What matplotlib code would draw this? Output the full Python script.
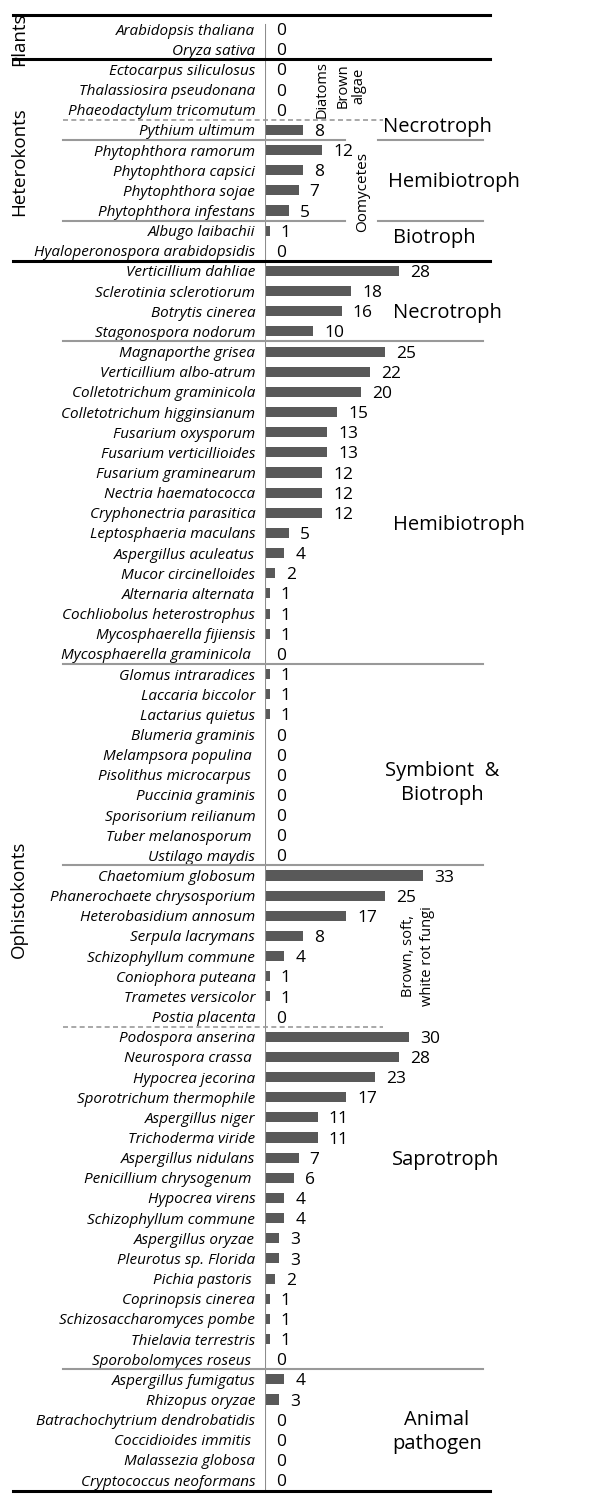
import matplotlib
matplotlib.use('Agg')
import matplotlib.pyplot as plt
from matplotlib.transforms import blended_transform_factory

plt.rcParams['font.family'] = ['Open Sans', 'DejaVu Sans']

# species names (top to bottom) and counts
plants = ['Arabidopsis thaliana', 'Oryza sativa']
plants_n = [0, 0]

heterokonts = ['Ectocarpus siliculosus', 'Thalassiosira pseudonana', 'Phaeodactylum tricomutum',
               'Pythium ultimum',
               'Phytophthora ramorum', 'Phytophthora capsici', 'Phytophthora sojae', 'Phytophthora infestans',
               'Albugo laibachii', 'Hyaloperonospora arabidopsidis']
heterokonts_n = [0, 0, 0, 8, 12, 8, 7, 5, 1, 0]

necro = ['Verticillium dahliae', 'Sclerotinia sclerotiorum', 'Botrytis cinerea', 'Stagonospora nodorum']
necro_n = [28, 18, 16, 10]

hemi = ['Magnaporthe grisea', 'Verticillium albo-atrum', 'Colletotrichum graminicola',
        'Colletotrichum higginsianum', 'Fusarium oxysporum', 'Fusarium verticillioides',
        'Fusarium graminearum', 'Nectria haematococca', 'Cryphonectria parasitica',
        'Leptosphaeria maculans', 'Aspergillus aculeatus', 'Mucor circinelloides',
        'Alternaria alternata', 'Cochliobolus heterostrophus', 'Mycosphaerella fijiensis',
        'Mycosphaerella graminicola ']
hemi_n = [25, 22, 20, 15, 13, 13, 12, 12, 12, 5, 4, 2, 1, 1, 1, 0]

symb = ['Glomus intraradices', 'Laccaria biccolor', 'Lactarius quietus', 'Blumeria graminis',
        'Melampsora populina ', 'Pisolithus microcarpus ', 'Puccinia graminis',
        'Sporisorium reilianum', 'Tuber melanosporum ', 'Ustilago maydis']
symb_n = [1, 1, 1, 0, 0, 0, 0, 0, 0, 0]

rot = ['Chaetomium globosum', 'Phanerochaete chrysosporium', 'Heterobasidium annosum',
       'Serpula lacrymans', 'Schizophyllum commune', 'Coniophora puteana',
       'Trametes versicolor', 'Postia placenta']
rot_n = [33, 25, 17, 8, 4, 1, 1, 0]

sapro = ['Podospora anserina', 'Neurospora crassa ', 'Hypocrea jecorina', 'Sporotrichum thermophile',
         'Aspergillus niger', 'Trichoderma viride', 'Aspergillus nidulans', 'Penicillium chrysogenum ',
         'Hypocrea virens', 'Schizophyllum commune', 'Aspergillus oryzae', 'Pleurotus sp. Florida',
         'Pichia pastoris ', 'Coprinopsis cinerea', 'Schizosaccharomyces pombe',
         'Thielavia terrestris', 'Sporobolomyces roseus ']
sapro_n = [30, 28, 23, 17, 11, 11, 7, 6, 4, 4, 3, 3, 2, 1, 1, 1, 0]

animal = ['Aspergillus fumigatus', 'Rhizopus oryzae', 'Batrachochytrium dendrobatidis',
          'Coccidioides immitis ', 'Malassezia globosa', 'Cryptococcus neoformans']
animal_n = [4, 3, 0, 0, 0, 0]

names = plants + heterokonts + necro + hemi + symb + rot + sapro + animal
counts = plants_n + heterokonts_n + necro_n + hemi_n + symb_n + rot_n + sapro_n + animal_n
rows = list(range(len(names)))

W, H = 600, 1502
fig = plt.figure(figsize=(6, 15.02), dpi=100)
ax = fig.add_axes([265 / W, 1 - 1491 / H, 225 / W, 1476 / H])

ax.barh(rows, counts, height=0.5, color='#595959')
ax.set_xlim(0, 225 / 4.79)
ax.set_ylim(72.54, -0.7)
ax.set_yticks(rows)
ax.set_yticklabels(names, style='italic', fontsize=11)
ax.tick_params(axis='y', length=0, pad=7)
ax.set_xticks([])
for s in ax.spines.values():
    s.set_visible(False)
ax.axvline(0, ymin=0, ymax=0.993, color='#8c8c8c', lw=1.5)

for i, v in zip(rows, counts):
    ax.annotate(str(v), (v, i), xytext=(8, -1.5), textcoords='offset points',
                va='center', ha='left', fontsize=12.5)

tr = blended_transform_factory(fig.transFigure, ax.transData)


def hline(y, x0, x1, **kw):
    ax.plot([x0 / W, x1 / W], [y, y], transform=tr, clip_on=False, **kw)


black = dict(color='black', lw=2.2)
gray = dict(color='#999999', lw=1.5)
dash = dict(color='#999999', lw=1.2, ls=(0, (3, 2)))

for y in [-0.7, 1.5, 11.5, 72.54]:
    hline(y, 13, 490, **black)
for y in [15.5, 31.5, 41.5, 66.5]:
    hline(y, 63, 483, **gray)
for y in [5.5, 9.5]:
    hline(y, 63, 345, **gray)
    hline(y, 378, 483, **gray)
for y in [4.5, 49.5]:
    hline(y, 63, 383, **dash)

# left group labels
for txt, y in [('Plants', 0.5), ('Heterokonts', 6.6), ('Ophistokonts', 43.2)]:
    ax.text(19 / W, y, txt, transform=tr, rotation=90, ha='center', va='center', fontsize=13.5)

# right lifestyle labels
for txt, x, y in [('Necrotroph', 383, 4.85), ('Hemibiotroph', 388, 7.6), ('Biotroph', 393, 10.35),
                  ('Necrotroph', 393, 14.1), ('Hemibiotroph', 393, 24.6),
                  ('Saprotroph', 392, 56.1)]:
    ax.text(x / W, y, txt, transform=tr, ha='left', va='center', fontsize=14.5)
ax.text(442 / W, 37.4, 'Symbiont  &\nBiotroph', transform=tr, ha='center', va='center',
        fontsize=14.5, linespacing=1.3)
ax.text(437 / W, 69.6, 'Animal\npathogen', transform=tr, ha='center', va='center',
        fontsize=14.5, linespacing=1.3)

# small rotated labels
ax.text(418 / W, 46.0, 'Brown, soft,\nwhite rot fungi', transform=tr, rotation=90,
        ha='center', va='center', fontsize=10.5, linespacing=1.3)
ax.text(322 / W, 3.0, 'Diatoms', transform=tr, rotation=90, ha='center', va='center', fontsize=10.5)
ax.text(351 / W, 2.8, 'Brown\nalgae', transform=tr, rotation=90, ha='center', va='center',
        fontsize=10.5, linespacing=1.1)
ax.text(363 / W, 8.1, 'Oomycetes', transform=tr, rotation=90, ha='center', va='center', fontsize=11)

fig.savefig('out.png', dpi=100)
